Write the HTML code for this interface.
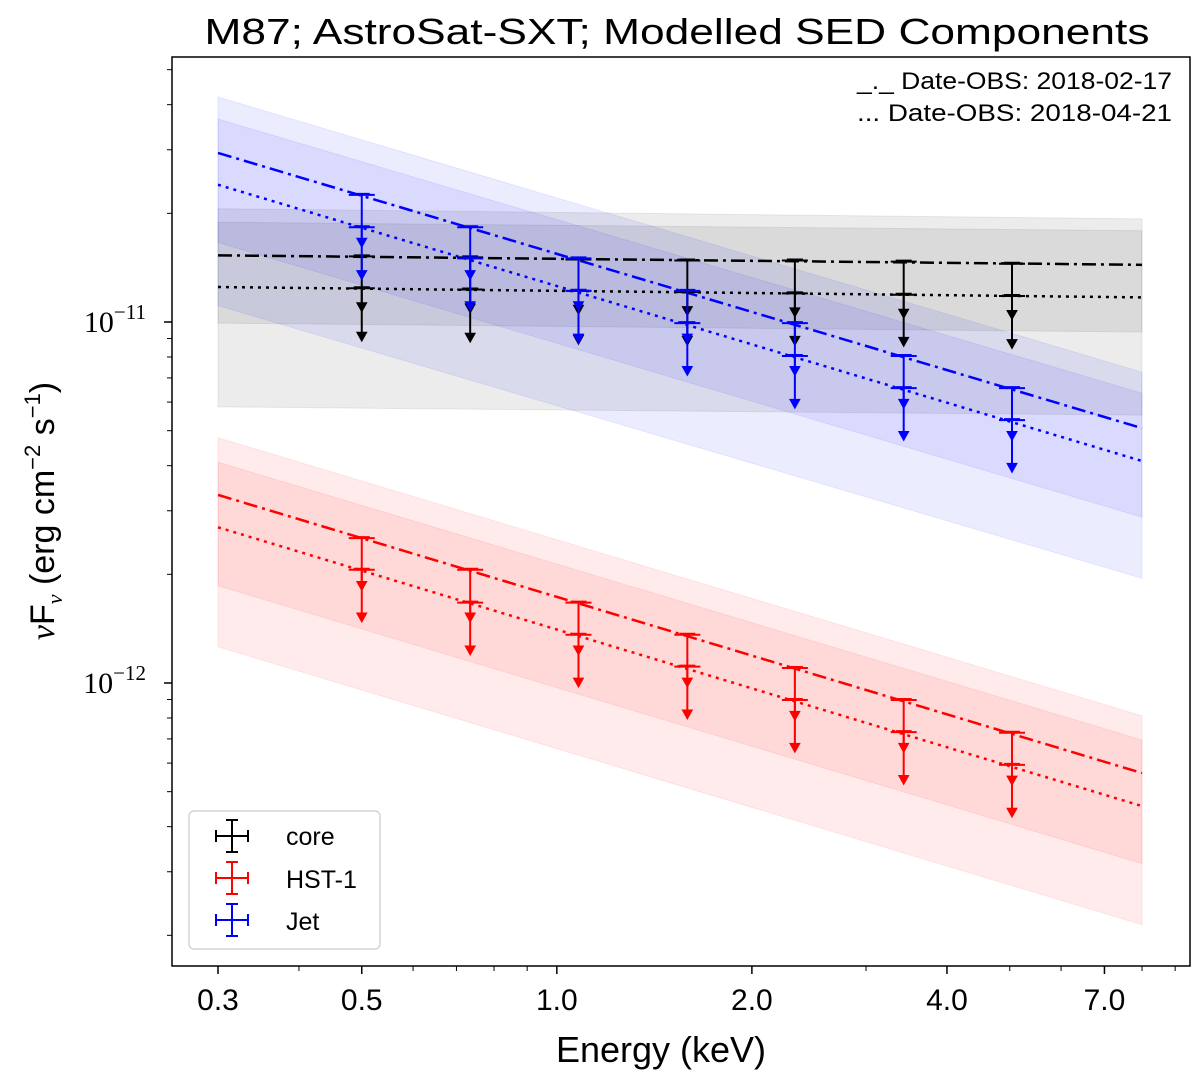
<!DOCTYPE html>
<html><head><meta charset="utf-8"><style>
html,body{margin:0;padding:0;background:#fff;}
svg{display:block;font-family:"Liberation Sans Narrow","Liberation Sans",sans-serif;}
</style></head><body>
<svg id="chart" width="1200" height="1076" viewBox="0 0 1200 1076">
<text x="677" y="44" font-size="36" text-anchor="middle" textLength="945" lengthAdjust="spacingAndGlyphs">M87; AstroSat-SXT; Modelled SED Components</text>
<g id="bands"></g>
<g id="lines"></g>
<g id="points"></g>
<g id="axes"></g>
<rect x="172" y="57" width="1018" height="909" fill="none" stroke="#000" stroke-width="1.5"/>
<text x="1172" y="89" font-size="24" text-anchor="end" textLength="315" lengthAdjust="spacingAndGlyphs">_._ Date-OBS: 2018-02-17</text>
<text x="1172" y="121" font-size="24" text-anchor="end" textLength="315" lengthAdjust="spacingAndGlyphs">...  Date-OBS: 2018-04-21</text>
<g>
<rect x="189" y="811" width="191" height="138" rx="5" fill="#fff" fill-opacity="0.85" stroke="#ccc" stroke-width="1.2"/>
<g stroke="#000" stroke-width="2"><line x1="216" y1="836" x2="248" y2="836"/><line x1="232" y1="820" x2="232" y2="852"/><line x1="216" y1="830" x2="216" y2="842"/><line x1="248" y1="830" x2="248" y2="842"/><line x1="226" y1="820" x2="238" y2="820"/><line x1="226" y1="852" x2="238" y2="852"/></g>
<text x="286" y="845" font-size="25">core</text>
<g stroke="#f00" stroke-width="2"><line x1="216" y1="878" x2="248" y2="878"/><line x1="232" y1="862" x2="232" y2="894"/><line x1="216" y1="872" x2="216" y2="884"/><line x1="248" y1="872" x2="248" y2="884"/><line x1="226" y1="862" x2="238" y2="862"/><line x1="226" y1="894" x2="238" y2="894"/></g>
<text x="286" y="888" font-size="25">HST-1</text>
<g stroke="#00f" stroke-width="2"><line x1="216" y1="920" x2="248" y2="920"/><line x1="232" y1="904" x2="232" y2="936"/><line x1="216" y1="914" x2="216" y2="926"/><line x1="248" y1="914" x2="248" y2="926"/><line x1="226" y1="904" x2="238" y2="904"/><line x1="226" y1="936" x2="238" y2="936"/></g>
<text x="286" y="930" font-size="25">Jet</text>
</g>
<text x="661" y="1062" font-size="36" text-anchor="middle">Energy (keV)</text>
<text transform="translate(54,511) rotate(-90)" font-size="34" text-anchor="middle" font-family="'Liberation Sans',sans-serif"><tspan font-family="'Liberation Serif',serif" font-style="italic">ν</tspan>F<tspan font-family="'Liberation Serif',serif" font-style="italic" font-size="22" dy="8">ν</tspan><tspan dy="-8"> (erg cm</tspan><tspan font-size="22" dy="-14">−2</tspan><tspan dy="14"> s</tspan><tspan font-size="22" dy="-14">−1</tspan><tspan dy="14">)</tspan></text>
</svg>
<script>
// ---- data ----
const energies = [0.5, 0.735, 1.08, 1.59, 2.33, 3.43, 5.04];
const lineEnergies = [0.3, 8.0];
const coreD1 = [1.52e-11, 1.51e-11, 1.49e-11, 1.48e-11, 1.48e-11, 1.47e-11, 1.45e-11];
const coreD2 = [1.24e-11, 1.23e-11, 1.22e-11, 1.21e-11, 1.20e-11, 1.19e-11, 1.18e-11];
const jetD1 = [2.25e-11, 1.83e-11, 1.50e-11, 1.22e-11, 9.93e-12, 8.05e-12, 6.56e-12];
const jetD2 = [1.83e-11, 1.50e-11, 1.22e-11, 9.93e-12, 8.05e-12, 6.56e-12, 5.35e-12];
const hstD1 = [2.52e-12, 2.06e-12, 1.67e-12, 1.36e-12, 1.10e-12, 8.97e-13, 7.28e-13];
const hstD2 = [2.06e-12, 1.67e-12, 1.36e-12, 1.11e-12, 8.97e-13, 7.31e-13, 5.93e-13];
const arrowDex = {core1: 0.235, core2: 0.065, jet: 0.145, hst: 0.145};
// model lines: values at 0.3 and 8 keV
const coreLineD1 = [1.53e-11, 1.44e-11];
const coreLineD2 = [1.25e-11, 1.17e-11];
const jetLineD1 = [2.94e-11, 5.08e-12];
const jetLineD2 = [2.40e-11, 4.12e-12];
const hstLineD1 = [3.32e-12, 5.63e-13];
const hstLineD2 = [2.70e-12, 4.56e-13];
// bands: [top@0.3, top@8, bottom@0.3, bottom@8]
const coreBandOuter = [2.06e-11, 1.93e-11, 5.82e-12, 5.52e-12];
const coreBandInner = [1.89e-11, 1.79e-11, 9.93e-12, 9.38e-12];
const jetBandOuter = [4.20e-11, 7.26e-12, 1.11e-11, 1.95e-12];
const jetBandInner = [3.65e-11, 6.35e-12, 1.66e-11, 2.88e-12];
const hstBandOuter = [4.78e-12, 8.11e-13, 1.26e-12, 2.14e-13];
const hstBandInner = [4.09e-12, 6.95e-13, 1.86e-12, 3.16e-13];
const xTickLabels = ["0.3", "0.5", "1.0", "2.0", "4.0", "7.0"];
const xMinorTicks = [0.4, 0.6, 0.7, 0.8, 0.9, 3, 5, 6, 8, 9];
const yMajorTicks = [-12, -11];

// ---- axes ----
const NS = "http://www.w3.org/2000/svg";
const X0 = 218, XD = 648, Y0 = 322, YD = 361;
function xs(e){ return X0 + XD * Math.log10(e / 0.3); }
function ys(v){ return Y0 - YD * (Math.log10(v) + 11); }
function mk(tag, attrs, parent){
  const el = document.createElementNS(NS, tag);
  for (const k in attrs) el.setAttribute(k, attrs[k]);
  parent.appendChild(el);
  return el;
}
const gB = document.getElementById('bands'), gL = document.getElementById('lines'),
      gP = document.getElementById('points'), gA = document.getElementById('axes');

function band(b, fill, name){
  const xa = xs(lineEnergies[0]), xb = xs(lineEnergies[1]);
  const p = mk('polygon', {points: `${xa},${ys(b[0])} ${xb},${ys(b[1])} ${xb},${ys(b[3])} ${xa},${ys(b[2])}`, fill: fill, stroke: fill}, gB);
  
  
}
band(coreBandOuter, 'rgba(0,0,0,0.075)', 'core-band-outer');
band(coreBandInner, 'rgba(0,0,0,0.075)', 'core-band-inner');
band(jetBandOuter, 'rgba(0,0,255,0.075)', 'jet-band-outer');
band(jetBandInner, 'rgba(0,0,255,0.075)', 'jet-band-inner');
band(hstBandOuter, 'rgba(255,0,0,0.08)', 'hst1-band-outer');
band(hstBandInner, 'rgba(255,0,0,0.08)', 'hst1-band-inner');

function modelLine(v, color, dash, name){
  const l = mk('line', {x1: xs(lineEnergies[0]), y1: ys(v[0]), x2: xs(lineEnergies[1]), y2: ys(v[1]), stroke: color, 'stroke-width': 2.5, 'stroke-dasharray': dash}, gL);
  
  
}
const DD = '14 5 3 5', DOT = '3 5';
modelLine(coreLineD1, '#000', DD, 'core-line-2018-02-17');
modelLine(coreLineD2, '#000', DOT, 'core-line-2018-04-21');
modelLine(jetLineD1, '#00f', DD, 'jet-line-2018-02-17');
modelLine(jetLineD2, '#00f', DOT, 'jet-line-2018-04-21');
modelLine(hstLineD1, '#f00', DD, 'hst1-line-2018-02-17');
modelLine(hstLineD2, '#f00', DOT, 'hst1-line-2018-04-21');

function limits(vals, dex, color, name){
  vals.forEach((v, i) => {
    const x = xs(energies[i]), y = ys(v), y2 = y + dex * YD;
    const g = mk('g', {stroke: color, fill: color, 'stroke-width': 2}, gP);
    
    
    mk('line', {x1: x - 13, y1: y, x2: x + 13, y2: y}, g);
    mk('line', {x1: x - 8, y1: y - 1, x2: x + 8, y2: y - 1}, g);
    mk('line', {x1: x, y1: y, x2: x, y2: y2 - 6}, g);
    mk('polygon', {points: `${x-5},${y2-9} ${x+5},${y2-9} ${x},${y2}`, 'stroke-width': 1}, g);
  });
}
limits(coreD1, arrowDex.core1, '#000', 'core-d1');
limits(coreD2, arrowDex.core2, '#000', 'core-d2');
limits(jetD1, arrowDex.jet, '#00f', 'jet-d1');
limits(jetD2, arrowDex.jet, '#00f', 'jet-d2');
limits(hstD1, arrowDex.hst, '#f00', 'hst1-d1');
limits(hstD2, arrowDex.hst, '#f00', 'hst1-d2');

// x ticks
const BOT = 966, LEFT = 172;
xTickLabels.forEach(lbl => {
  const x = xs(parseFloat(lbl));
  mk('line', {x1: x, y1: BOT, x2: x, y2: BOT + 8, stroke: '#000', 'stroke-width': 1.5}, gA);
  const t = mk('text', {x: x, y: BOT + 44, 'font-size': 30, 'text-anchor': 'middle'}, gA);
  t.textContent = lbl;
  
  
});
xMinorTicks.forEach(e => {
  const x = xs(e);
  mk('line', {x1: x, y1: BOT, x2: x, y2: BOT + 5, stroke: '#000', 'stroke-width': 1}, gA);
});
// y ticks
yMajorTicks.forEach(p => {
  const y = ys(Math.pow(10, p));
  mk('line', {x1: LEFT - 8, y1: y, x2: LEFT, y2: y, stroke: '#000', 'stroke-width': 1.5}, gA);
  const t = mk('text', {x: 146, y: y + 10, 'font-size': 30, 'text-anchor': 'end', 'font-family': "'Liberation Serif',serif"}, gA);
  t.textContent = '10';
  const s = mk('tspan', {dy: -13, 'font-size': 21}, t);
  s.textContent = '\u2212' + Math.abs(p);
  
  
});
for (let d = -13; d <= -11; d++) {
  for (let m = 2; m <= 9; m++) {
    const y = ys(m * Math.pow(10, d));
    if (y < 57 || y > 966) continue;
    mk('line', {x1: LEFT - 5, y1: y, x2: LEFT, y2: y, stroke: '#000', 'stroke-width': 1}, gA);
  }
}
</script>
</body></html>
